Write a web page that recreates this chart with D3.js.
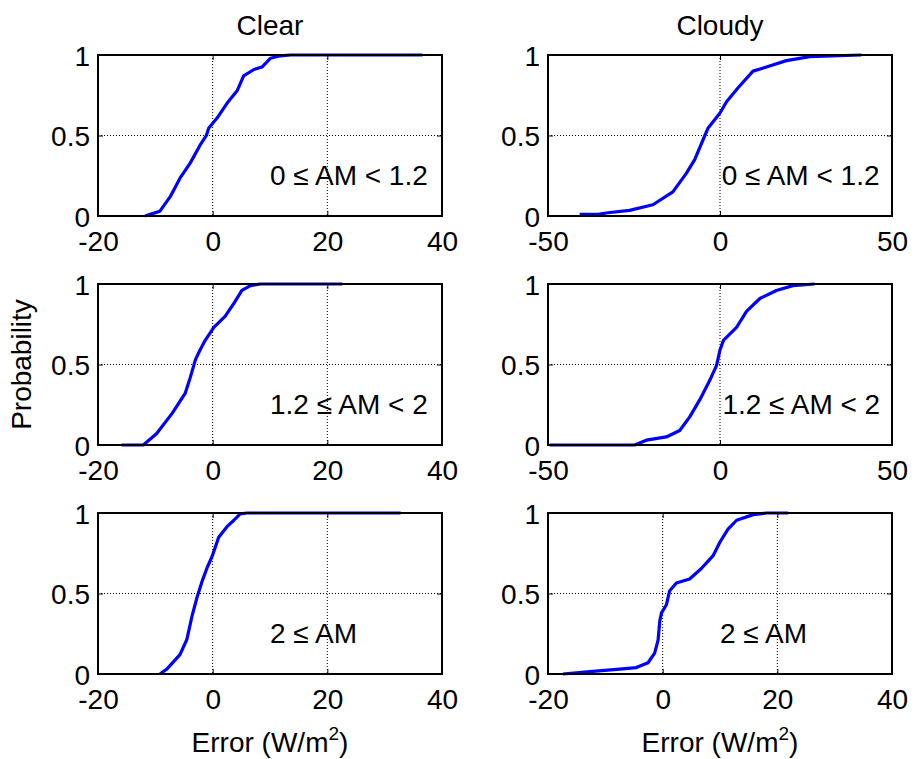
<!DOCTYPE html>
<html>
<head>
<meta charset="utf-8">
<script src="https://cdn.jsdelivr.net/npm/d3@7"></script>
<style>
  html, body { margin: 0; padding: 0; background: #fff; }
  svg { display: block; font-family: "Liberation Sans", Arial, Helvetica, sans-serif; }
</style>
</head>
<body>
<svg id="chart" width="914" height="759"></svg>
<script>
// Column titles, air-mass class labels and axis labels
const columnTitles = ["Clear", "Cloudy"];
const amLabels = ["0 \u2264 AM < 1.2", "1.2 \u2264 AM < 2", "2 \u2264 AM"];
const yLabel = "Probability";
const xLabelBase = "Error (W/m";
const xLabelSup = "2";

// x-axis domains and tick values per column / row
const clearDomain = [-20, 40];
const clearTicks = [-20, 0, 20, 40];
const cloudyDomains = [[-50, 50], [-50, 50], [-20, 40]];
const cloudyTicks = [[-50, 0, 50], [-50, 0, 50], [-20, 0, 20, 40]];
const probTicks = [0, 0.5, 1];

// Empirical CDFs of the error (W/m^2): Clear sky, by air-mass class
const errClear1 = [-11.8, -10.9, -9.2, -7.4, -5.7, -3.9, -2.2, -1.1, -0.7, 0.8, 2.5, 4.3, 5.4, 7.2, 8.6, 10.1, 11.8, 13.6, 36.6];
const probClear1 = [0, 0.01, 0.03, 0.12, 0.235, 0.33, 0.44, 0.5, 0.545, 0.61, 0.70, 0.78, 0.87, 0.91, 0.925, 0.98, 0.995, 1, 1];

const errClear2 = [-15.9, -12.1, -9.8, -7.1, -4.8, -3.9, -3.0, -2.2, -1.3, 0.2, 2.2, 3.7, 5.1, 6.6, 8.3, 22.6];
const probClear2 = [0, 0, 0.07, 0.195, 0.32, 0.42, 0.53, 0.59, 0.65, 0.73, 0.80, 0.88, 0.96, 0.99, 1, 1];

const errClear3 = [-9.2, -8.0, -5.7, -4.5, -3.6, -2.7, -1.85, -0.97, -0.1, 1.05, 2.5, 3.7, 4.8, 6.0, 32.8];
const probClear3 = [0, 0.03, 0.12, 0.215, 0.36, 0.48, 0.575, 0.66, 0.73, 0.85, 0.915, 0.955, 0.995, 1, 1];

// Empirical CDFs of the error (W/m^2): Cloudy sky, by air-mass class
const errCloudy1 = [-40.8, -35, -32.6, -26.3, -19.5, -13.7, -9.8, -7.35, -5.4, -4.4, -3.5, 0, 1.9, 5.2, 9.6, 13.5, 19.3, 26.1, 41.1];
const probCloudy1 = [0.01, 0.012, 0.02, 0.035, 0.07, 0.15, 0.265, 0.35, 0.45, 0.5, 0.545, 0.64, 0.71, 0.795, 0.90, 0.925, 0.965, 0.99, 1];

const errCloudy2 = [-49.5, -24.8, -21.4, -15.6, -11.7, -8.8, -5.9, -3.0, -1.0, 0, 1.0, 4.8, 7.7, 11.6, 16.4, 21.2, 27.5];
const probCloudy2 = [0, 0, 0.03, 0.05, 0.09, 0.175, 0.28, 0.40, 0.495, 0.59, 0.65, 0.73, 0.83, 0.91, 0.96, 0.99, 1];

const errCloudy3 = [-17.4, -12.7, -7.5, -4.6, -2.55, -1.4, -0.8, -0.5, -0.2, 0.65, 1.2, 2.4, 4.7, 6.75, 8.8, 10, 11.4, 12.9, 15.8, 18.1, 21.9];
const probCloudy3 = [0, 0.015, 0.03, 0.04, 0.07, 0.13, 0.21, 0.33, 0.38, 0.43, 0.515, 0.565, 0.59, 0.655, 0.735, 0.82, 0.90, 0.955, 0.99, 1, 1];

// Left edge (data units) of the air-mass text in each panel: [clear, cloudy] per row
const labelX = [[10, 0.5], [10, 0.7], [10, 10]];

// Layout of the 3 x 2 grid of axes
const colLeft = [98, 548];
const plotW = 344;
const rowTop = [55, 284, 513];
const plotH = 161;
const FONT = 28;

const svg = d3.select("#chart");

// plain hyphen for negative tick labels
const fmtTick = d => String(d);

const panels = [];
const clearErr = [errClear1, errClear2, errClear3];
const clearProb = [probClear1, probClear2, probClear3];
const cloudyErr = [errCloudy1, errCloudy2, errCloudy3];
const cloudyProb = [probCloudy1, probCloudy2, probCloudy3];
for (let r = 0; r < 3; r++) {
  panels.push({ row: r, col: 0, domain: clearDomain, ticks: clearTicks, err: clearErr[r], prob: clearProb[r], lx: labelX[r][0] });
  panels.push({ row: r, col: 1, domain: cloudyDomains[r], ticks: cloudyTicks[r], err: cloudyErr[r], prob: cloudyProb[r], lx: labelX[r][1] });
}

panels.forEach(p => {
  const x0 = colLeft[p.col], y0 = rowTop[p.row];
  const g = svg.append("g").attr("transform", `translate(${x0},${y0})`);
  const x = d3.scaleLinear().domain(p.domain).range([0, plotW]);
  const y = d3.scaleLinear().domain([0, 1]).range([plotH, 0]);

  // dotted grid lines at interior ticks
  const innerX = p.ticks.filter(t => t > p.domain[0] && t < p.domain[1]);
  g.selectAll(".gx").data(innerX).join("line")
    .attr("x1", d => x(d)).attr("x2", d => x(d))
    .attr("y1", 0).attr("y2", plotH)
    .attr("stroke", "#000").attr("stroke-width", 1).attr("stroke-dasharray", "1,2");
  g.selectAll(".gy").data([0.5]).join("line")
    .attr("x1", 0).attr("x2", plotW)
    .attr("y1", d => y(d)).attr("y2", d => y(d))
    .attr("stroke", "#000").attr("stroke-width", 1).attr("stroke-dasharray", "1,2");

  // CDF curve
  const pts = p.err.map((e, i) => [e, p.prob[i]]);
  g.append("path")
    .datum(pts)
    .attr("fill", "none")
    .attr("stroke", "#0000ff")
    .attr("stroke-width", 3.2)
    .attr("stroke-linejoin", "round")
    .attr("d", d3.line().x(d => x(d[0])).y(d => y(d[1])));

  // axes: labels outside, short ticks inside
  const xAxis = g.append("g").attr("transform", `translate(0,${plotH})`)
    .call(d3.axisBottom(x).tickValues(p.ticks).tickSize(-5).tickPadding(13).tickFormat(fmtTick));
  const yAxis = g.append("g")
    .call(d3.axisLeft(y).tickValues(probTicks).tickSize(-5).tickPadding(13).tickFormat(fmtTick));
  const xTop = g.append("g").call(d3.axisTop(x).tickValues(p.ticks).tickSize(-5).tickFormat(""));
  const yRight = g.append("g").attr("transform", `translate(${plotW},0)`)
    .call(d3.axisRight(y).tickValues(probTicks).tickSize(-5).tickFormat(""));
  [xAxis, yAxis, xTop, yRight].forEach(a => {
    a.select(".domain").remove();
    a.selectAll("line").attr("stroke", "#000").attr("stroke-width", 1);
  });
  xAxis.selectAll("text").attr("font-size", FONT).attr("fill", "#000")
    .attr("dy", null).attr("y", 35).attr("font-family", null);
  yAxis.selectAll("text").attr("font-size", FONT).attr("fill", "#000")
    .attr("dy", "0.36em").attr("x", -8).attr("font-family", null);

  // box
  g.append("rect").attr("x", 0).attr("y", 0).attr("width", plotW).attr("height", plotH)
    .attr("fill", "none").attr("stroke", "#000").attr("stroke-width", 2);

  // air-mass class label
  g.append("text")
    .attr("x", x(p.lx)).attr("y", y(0.19))
    .attr("font-size", FONT).attr("fill", "#000")
    .text(amLabels[p.row]);
});

// column titles
columnTitles.forEach((t, c) => {
  svg.append("text")
    .attr("x", colLeft[c] + plotW / 2).attr("y", rowTop[0] - 20)
    .attr("text-anchor", "middle").attr("font-size", FONT).attr("fill", "#000")
    .text(t);
});

// x labels under the bottom row
colLeft.forEach(cx => {
  const t = svg.append("text")
    .attr("x", cx + plotW / 2).attr("y", rowTop[2] + plotH + 78)
    .attr("text-anchor", "middle").attr("font-size", FONT).attr("fill", "#000");
  t.append("tspan").text(xLabelBase);
  t.append("tspan").attr("font-size", 19).attr("dy", -12).text(xLabelSup);
  t.append("tspan").attr("dy", 12).text(")");
});

// shared y label
svg.append("text")
  .attr("transform", `translate(31,${(rowTop[0] + rowTop[2] + plotH) / 2}) rotate(-90)`)
  .attr("text-anchor", "middle").attr("font-size", FONT).attr("fill", "#000")
  .text(yLabel);
</script>
</body>
</html>
